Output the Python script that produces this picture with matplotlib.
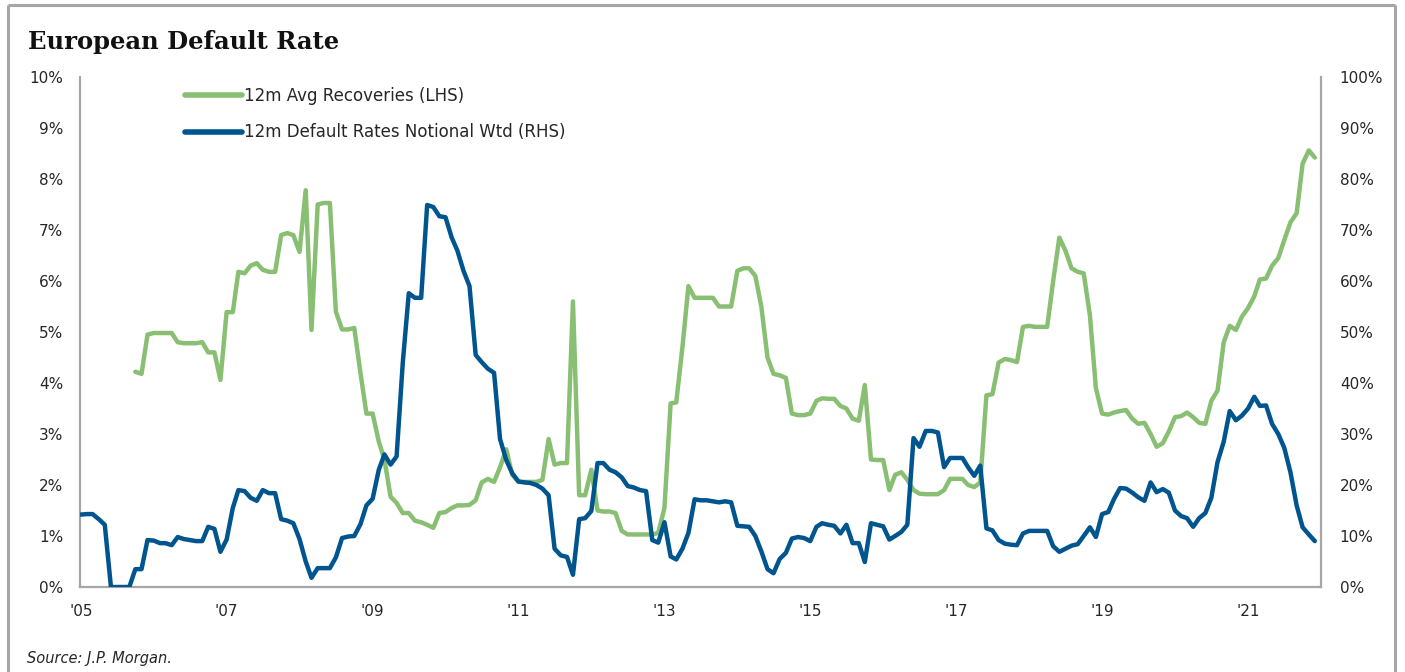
import matplotlib
matplotlib.use("Agg")
import matplotlib.pyplot as plt
from matplotlib.lines import Line2D
import pandas as pd

# ---------------- data ----------------
title = "European Default Rate"
source = "Source: J.P. Morgan."
label_rec = "12m Avg Recoveries (LHS)"
label_def = "12m Default Rates Notional Wtd (RHS)"

# monthly, Jan 2005 .. Dec 2021 (RHS, %)
default_start = "2005-01"
default_rates = [
    14.2, 14.3, 14.3, 13.3, 12.2, 0.0, 0.0, 0.0, 0.0, 3.5, 3.5, 9.2,
    9.1, 8.6, 8.6, 8.2, 9.8, 9.4, 9.2, 9.0, 9.0, 11.8, 11.4, 6.9,
    9.3, 15.5, 19.0, 18.8, 17.5, 16.9, 19.0, 18.4, 18.4, 13.3, 13.0, 12.5,
    9.4, 5.0, 1.8, 3.7, 3.7, 3.7, 5.8, 9.6, 9.9, 10.0, 12.3, 16.0,
    17.3, 23.0, 26.0, 24.0, 25.6, 44.0, 57.6, 56.7, 56.7, 74.9, 74.5, 72.7,
    72.5, 68.5, 66.0, 62.0, 59.0, 45.5, 44.1, 42.8, 42.0, 29.0, 24.9, 22.3,
    20.7, 20.5, 20.4, 20.0, 19.3, 18.0, 7.5, 6.2, 5.9, 2.4, 13.3, 13.5,
    14.9, 24.3, 24.3, 23.0, 22.5, 21.5, 19.8, 19.5, 19.0, 18.8, 9.2, 8.7,
    12.7, 6.0, 5.4, 7.5, 10.6, 17.2, 17.0, 17.0, 16.8, 16.6, 16.8, 16.6,
    12.0, 11.9, 11.8, 10.0, 7.0, 3.5, 2.7, 5.5, 6.7, 9.5, 9.8, 9.6,
    9.0, 11.8, 12.5, 12.2, 12.0, 10.5, 12.2, 8.6, 8.6, 4.9, 12.5, 12.2,
    11.9, 9.3, 10.0, 10.8, 12.2, 29.2, 27.5, 30.6, 30.6, 30.3, 23.5, 25.3,
    25.3, 25.3, 23.5, 21.8, 23.8, 11.5, 11.1, 9.2, 8.5, 8.3, 8.2, 10.5,
    11.0, 11.0, 11.0, 11.0, 8.0, 6.9, 7.5, 8.1, 8.4, 10.0, 11.7, 9.8,
    14.3, 14.7, 17.2, 19.4, 19.3, 18.5, 17.6, 16.9, 20.5, 18.6, 19.2, 18.5,
    15.0, 13.9, 13.5, 11.8, 13.5, 14.5, 17.5, 24.5, 28.5, 34.5, 32.7, 33.6,
    35.0, 37.3, 35.5, 35.6, 32.0, 30.0, 27.3, 22.5, 16.0, 11.7, 10.3, 9.0,
]

# monthly, Oct 2005 .. Dec 2021 (LHS, %)
recovery_start = "2005-10"
recoveries = [
    4.22, 4.18, 4.95,
    4.98, 4.98, 4.98, 4.98, 4.80, 4.78, 4.78, 4.78, 4.80, 4.60, 4.60, 4.06,
    5.39, 5.39, 6.18, 6.15, 6.30, 6.35, 6.22, 6.18, 6.18, 6.90, 6.94, 6.90,
    6.57, 7.78, 5.04, 7.50, 7.53, 7.53, 5.40, 5.05, 5.05, 5.08, 4.20, 3.40,
    3.40, 2.85, 2.50, 1.77, 1.65, 1.45, 1.45, 1.30, 1.27, 1.22, 1.16, 1.45,
    1.47, 1.55, 1.60, 1.60, 1.61, 1.70, 2.05, 2.12, 2.06, 2.35, 2.70, 2.20,
    2.06, 2.06, 2.06, 2.06, 2.10, 2.90, 2.40, 2.43, 2.43, 5.60, 1.80, 1.80,
    2.30, 1.50, 1.48, 1.48, 1.45, 1.10, 1.03, 1.03, 1.03, 1.03, 1.03, 1.06,
    1.55, 3.60, 3.62, 4.70, 5.90, 5.67, 5.67, 5.67, 5.67, 5.50, 5.50, 5.50,
    6.20, 6.25, 6.25, 6.10, 5.50, 4.50, 4.18, 4.15, 4.10, 3.40, 3.37, 3.37,
    3.40, 3.65, 3.70, 3.69, 3.69, 3.55, 3.50, 3.30, 3.26, 3.96, 2.50, 2.49,
    2.49, 1.90, 2.20, 2.25, 2.10, 1.90, 1.83, 1.82, 1.82, 1.82, 1.90, 2.12,
    2.12, 2.12, 2.00, 1.96, 2.05, 3.76, 3.78, 4.40, 4.47, 4.45, 4.41, 5.10,
    5.12, 5.10, 5.10, 5.10, 6.00, 6.85, 6.60, 6.25, 6.18, 6.15, 5.33, 3.90,
    3.40, 3.38, 3.42, 3.45, 3.47, 3.30, 3.20, 3.22, 3.00, 2.75, 2.82, 3.05,
    3.33, 3.35, 3.42, 3.33, 3.22, 3.20, 3.65, 3.85, 4.80, 5.12, 5.04, 5.30,
    5.47, 5.70, 6.03, 6.05, 6.30, 6.45, 6.80, 7.15, 7.33, 8.30, 8.56, 8.42,
]

x_tick_years = [2005, 2007, 2009, 2011, 2013, 2015, 2017, 2019, 2021]
x_tick_labels = ["'05", "'07", "'09", "'11", "'13", "'15", "'17", "'19", "'21"]
left_ticks = [0, 1, 2, 3, 4, 5, 6, 7, 8, 9, 10]
right_ticks = [0, 10, 20, 30, 40, 50, 60, 70, 80, 90, 100]

# ---------------- style ----------------
GREEN = "#88bf72"
BLUE = "#00558f"
GRID = "#a6a6a6"
TXT = "#262626"

plt.rcParams["font.family"] = ["DejaVu Sans"]

W, H = 1405, 672
fig = plt.figure(figsize=(W / 100, H / 100), dpi=100)
ax = fig.add_axes([80 / W, 1 - 587 / H, (1321 - 80) / W, (587 - 77) / H])
ax2 = ax.twinx()

d_dates = pd.date_range(default_start, periods=len(default_rates), freq="MS")
r_dates = pd.date_range(recovery_start, periods=len(recoveries), freq="MS")

l1, = ax.plot(r_dates, recoveries, color=GREEN, lw=3.2, solid_joinstyle="round",
              solid_capstyle="round", label=label_rec)
l2, = ax2.plot(d_dates, default_rates, color=BLUE, lw=3.2, solid_joinstyle="round",
               solid_capstyle="round", label=label_def)

ax.set_xlim(pd.Timestamp("2004-12-28"), pd.Timestamp("2022-01-01"))
ax.set_ylim(0, 10)
ax2.set_ylim(0, 100)

ax.set_xticks([pd.Timestamp(f"{y}-01-01") for y in x_tick_years])
ax.set_xticklabels(x_tick_labels)
ax.set_yticks(left_ticks)
ax.set_yticklabels([f"{v}%" for v in left_ticks])
ax2.set_yticks(right_ticks)
ax2.set_yticklabels([f"{v}%" for v in right_ticks])

for a in (ax, ax2):
    for s in a.spines.values():
        s.set_visible(False)
ax.spines["left"].set_visible(True)
ax.spines["bottom"].set_visible(True)
ax2.spines["right"].set_visible(True)
for s in (ax.spines["left"], ax.spines["bottom"], ax2.spines["right"]):
    s.set_color(GRID)
    s.set_linewidth(1.6)

ax.tick_params(axis="x", length=0, pad=12.5, labelsize=11, labelcolor=TXT)
ax.tick_params(axis="y", length=0, pad=12, labelsize=11, labelcolor=TXT)
ax2.tick_params(axis="y", length=0, pad=13.5, labelsize=11, labelcolor=TXT)

leg = ax.legend(handles=[l1, l2], loc="upper left",
                bbox_to_anchor=(185 / W, 1 - 87 / H), bbox_transform=fig.transFigure,
                frameon=False, fontsize=12, handlelength=3.4, handletextpad=0.12,
                labelspacing=1.1, borderpad=0, borderaxespad=0)
for t in leg.get_texts():
    t.set_color(TXT)
for h in leg.get_lines():
    h.set_linewidth(4)

fig.text(28 / W, 1 - 42 / H, title, family="DejaVu Serif", weight="bold",
         fontsize=17.5, va="center", ha="left", color="#111111")
fig.text(27 / W, 1 - 658 / H, source, style="italic", fontsize=10.5,
         va="center", ha="left", color=TXT)

# outer frame
frame_kw = dict(color=GRID, lw=2.2, transform=fig.transFigure, solid_capstyle="butt")
fig.add_artist(Line2D([8 / W, 1395 / W], [1 - 5 / H, 1 - 5 / H], **frame_kw))
fig.add_artist(Line2D([8 / W, 8 / W], [1 - 5 / H, 0], **frame_kw))
fig.add_artist(Line2D([1395 / W, 1395 / W], [1 - 5 / H, 0], **frame_kw))

fig.savefig("out.png", dpi=100)
